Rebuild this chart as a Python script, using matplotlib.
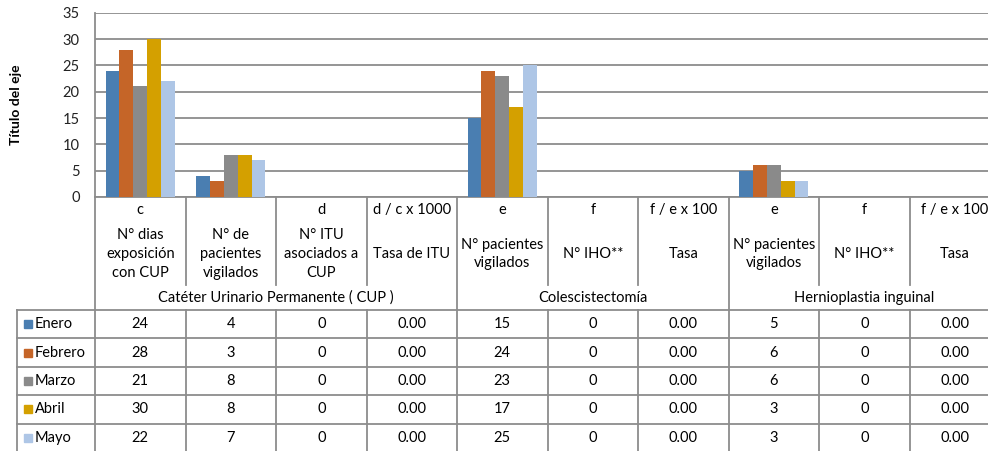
import numpy as np
import matplotlib
matplotlib.use('Agg')
import matplotlib.pyplot as plt

plt.rcParams['font.family'] = ['Lato', 'DejaVu Sans']

# data
months = ['Enero', 'Febrero', 'Marzo', 'Abril', 'Mayo']
colors = ['#4A7EB1', '#C56528', '#8A8A8A', '#D4A000', '#AEC6E6']
letters = ['c', '', 'd', 'd / c x 1000', 'e', 'f', 'f / e x 100', 'e', 'f', 'f / e x 100']
descs = ['N° dias\nexposición\ncon CUP', 'N° de\npacientes\nvigilados', 'N° ITU\nasociados a\nCUP',
         'Tasa de ITU', 'N° pacientes\nvigilados', 'N° IHO**', 'Tasa',
         'N° pacientes\nvigilados', 'N° IHO**', 'Tasa']
groups = ['Catéter Urinario Permanente ( CUP )', 'Colescistectomía', 'Hernioplastia inguinal']
group_sizes = [4, 3, 3]
rate_cols = [3, 6, 9]

enero = [24, 4, 0, 0, 15, 0, 0, 5, 0, 0]
febrero = [28, 3, 0, 0, 24, 0, 0, 6, 0, 0]
marzo = [21, 8, 0, 0, 23, 0, 0, 6, 0, 0]
abril = [30, 8, 0, 0, 17, 0, 0, 3, 0, 0]
mayo = [22, 7, 0, 0, 25, 0, 0, 3, 0, 0]
series = [enero, febrero, marzo, abril, mayo]

W, H = 988, 451
fig = plt.figure(figsize=(W/100, H/100), dpi=100)
x0, x1 = 95, 1000          # plot area left/right in px
ytop, ybot = 12.7, 197     # y=35 and y=0 in px
ax = fig.add_axes([x0/W, 1-ybot/H, (x1-x0)/W, (ybot-ytop)/H])

n = len(letters)
x = np.arange(n)
bw = 0.153
for i, (m, vals) in enumerate(zip(months, series)):
    ax.bar(x + (i-2)*bw, vals, bw, color=colors[i], label=m, zorder=3)

ax.set_xlim(-0.5, n-0.5)
ax.set_ylim(0, 35)
ax.set_yticks(range(0, 36, 5))
ax.yaxis.grid(True, color='#8C8C8C', lw=1.3, zorder=0)
ax.set_xticks([])
ax.tick_params(axis='y', length=0, pad=11, labelsize=10.5, labelcolor='#222222')
for s in ['top', 'right']:
    ax.spines[s].set_visible(False)
ax.spines['left'].set_color('#8C8C8C')
ax.spines['bottom'].set_color('#8C8C8C')
ax.spines['left'].set_linewidth(1.3)
ax.spines['bottom'].set_linewidth(1.3)

fig.text(16.5/W, 1-105/H, 'Título del eje', rotation=90, ha='center', va='center',
         fontsize=10, fontweight='bold')

# table below, y in px offsets from ybot
tb = fig.add_axes([x0/W, 0, (x1-x0)/W, 1-ybot/H])
tb.set_xlim(-0.5, n-0.5)
tb.set_ylim(H-ybot, 0)
tb.axis('off')
cw = (x1-x0)/n
def px(p):
    return -0.5 + (p - x0)/cw
def py(p):
    return p - ybot

lc = '#8C8C8C'
lw = 1.3
fs = 10.5
edges = np.arange(-0.5, n, 1.0)
gedges = [-0.5] + list(-0.5 + np.cumsum(group_sizes))

# header
for e in edges:
    if e in gedges:
        tb.plot([e, e], [py(197), py(H)], color=lc, lw=lw, clip_on=False)
    else:
        tb.plot([e, e], [py(197), py(285)], color=lc, lw=lw, clip_on=False)
        tb.plot([e, e], [py(310), py(H)], color=lc, lw=lw, clip_on=False)
for i in range(n):
    tb.text(i, py(210), letters[i], ha='center', va='center', fontsize=fs)
    tb.text(i, py(254), descs[i], ha='center', va='center', fontsize=fs, linespacing=1.42)
start = 0
for g, sz in zip(groups, group_sizes):
    tb.text(start + (sz-1)/2, py(298), g, ha='center', va='center', fontsize=fs)
    start += sz

# data rows
row_top = 310
rh = 28.4
left = px(17)
tb.plot([left, left], [py(row_top), py(H)], color=lc, lw=lw, clip_on=False)
for r in range(len(months) + 1):
    yy = py(row_top + r*rh)
    tb.plot([left, n-0.5], [yy, yy], color=lc, lw=lw, clip_on=False)
for r, (m, vals) in enumerate(zip(months, series)):
    yc = py(row_top + (r+0.5)*rh)
    tb.add_patch(plt.Rectangle((px(24), yc-4), 8/cw, 8, color=colors[r], clip_on=False))
    tb.text(px(35), yc, m, ha='left', va='center', fontsize=fs)
    for i, v in enumerate(vals):
        s = '%.2f' % v if i in rate_cols else '%d' % v
        tb.text(i, yc, s, ha='center', va='center', fontsize=fs)

fig.savefig('out.png', dpi=100)
